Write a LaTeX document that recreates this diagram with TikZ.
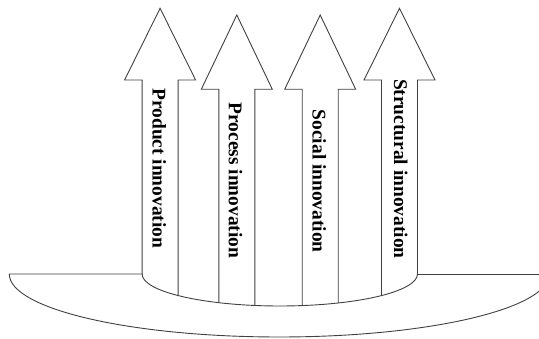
\documentclass[tikz,border=0pt]{standalone}
\usepackage{fontspec}
\setmainfont{Liberation Serif}
\begin{document}
\begin{tikzpicture}[x=1pt,y=1pt,
  outline/.style={draw=black!75,line width=0.9pt,line join=miter},
  label/.style={rotate=-90,inner sep=0pt,font=\bfseries\fontsize{19.4}{23}\selectfont}]
\useasboundingbox (0,0) rectangle (539,339);
\clip (0,0) rectangle (539,339);
% brim
\draw[outline] (417.5,65) -- (539,65);
\draw[outline] (142.1,65) -- (9.3,65)
  arc[start angle=180,end angle=360,x radius=270,y radius=63];
\draw[outline] (142.1,65) arc[start angle=180,end angle=360,x radius=137.7,y radius=32];
% arrows, clipped above the inner curve
\begin{scope}
  \clip (0,339) -- (0,65) -- (142.1,65)
        arc[start angle=180,end angle=360,x radius=137.7,y radius=32]
        -- (539,65) -- (539,339) -- cycle;
  \foreach \cx/\tip/\base in {160.1/330.7/259, 236.8/324/249.7, 320.2/324/249.7, 399.5/330.7/259}{
    \draw[outline] (\cx-18,20) -- (\cx-18,\base) -- (\cx-35.5,\base) -- (\cx,\tip)
      -- (\cx+35.5,\base) -- (\cx+18,\base) -- (\cx+18,20);
  }
\end{scope}
% labels
\node[label] (product) at (159.2,170.7) {Product innovation};
\node[label] (process) at (235.5,158.5) {Process innovation};
\node[label] (social) at (319.2,157.7) {Social innovation};
\node[label] (structural) at (400.8,170.2) {Structural innovation};
\end{tikzpicture}
\end{document}
